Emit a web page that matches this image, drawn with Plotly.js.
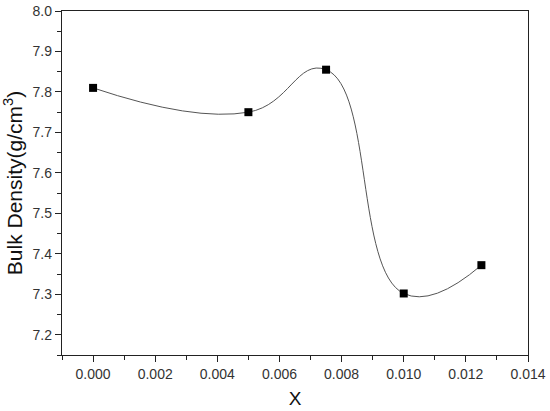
<!DOCTYPE html>
<html>
<head>
<meta charset="utf-8">
<script src="https://cdn.plot.ly/plotly-3.0.1.min.js"></script>
<style>
  html, body { margin: 0; padding: 0; background: #fff; }
  #chart { width: 550px; height: 411px; }
</style>
</head>
<body>
<div id="chart"></div>
<script>
// values
const xVals = [0.0, 0.005, 0.0075, 0.010, 0.0125];
const density = [7.81, 7.75, 7.855, 7.302, 7.372];

const curve = {
  type: 'scatter',
  mode: 'lines',
  x: xVals,
  y: density,
  line: {color: '#555555', width: 1, shape: 'spline', smoothing: 1.3},
  hoverinfo: 'skip'
};

const points = {
  type: 'scatter',
  mode: 'markers',
  x: xVals,
  y: density,
  marker: {symbol: 'square', size: 8, color: '#000000'}
};

const font = {family: 'Liberation Sans, Arial, sans-serif', color: '#222222'};

const layout = {
  width: 550,
  height: 411,
  margin: {l: 62, r: 22, t: 11, b: 56},
  showlegend: false,
  paper_bgcolor: '#ffffff',
  plot_bgcolor: '#ffffff',
  font: font,
  xaxis: {
    range: [-0.001, 0.014],
    tick0: 0,
    dtick: 0.002,
    tickformat: '.3f',
    ticks: 'outside',
    ticklen: 6,
    tickcolor: '#222',
    tickfont: {size: 14, color: '#333'},
    minor: {dtick: 0.001, ticks: 'outside', ticklen: 4, tickcolor: '#222'},
    showgrid: false,
    zeroline: false,
    showline: true,
    linecolor: '#222',
    linewidth: 1.2,
    mirror: true,
    title: {text: 'X', font: {size: 19, color: '#111'}, standoff: 10}
  },
  yaxis: {
    range: [7.15, 8.0],
    tick0: 7.2,
    dtick: 0.1,
    tickformat: '.1f',
    ticks: 'outside',
    ticklen: 6,
    tickcolor: '#222',
    tickfont: {size: 14, color: '#333'},
    minor: {dtick: 0.05, ticks: 'outside', ticklen: 4, tickcolor: '#222'},
    showgrid: false,
    zeroline: false,
    showline: true,
    linecolor: '#222',
    linewidth: 1.2,
    mirror: true,
    title: {text: 'Bulk Density(g/cm<sup>3</sup>)', font: {size: 21, color: '#111'}, standoff: 6}
  }
};

Plotly.newPlot('chart', [curve, points], layout, {displayModeBar: false, staticPlot: true});
</script>
</body>
</html>
